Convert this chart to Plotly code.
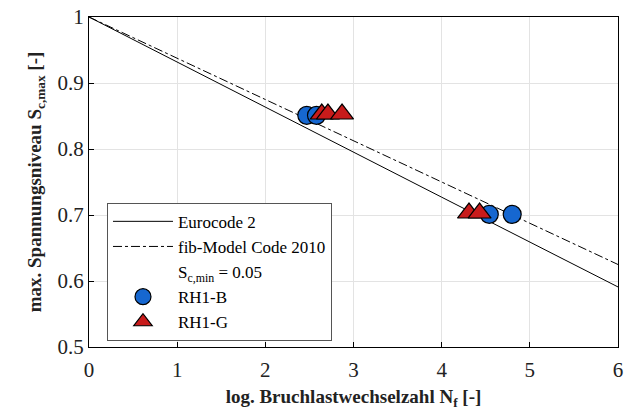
import plotly.graph_objects as go

# Model curves
ec2_x = [0, 2, 4, 6]
ec2_y = [1.0, 0.863, 0.727, 0.591]
fib_x = [0, 2, 4, 6]
fib_y = [1.0, 0.875, 0.75, 0.625]

# Test data
rh1b_x = [2.47, 2.58, 4.54, 4.80]
rh1b_y = [0.851, 0.851, 0.701, 0.701]
rh1g_x = [2.64, 2.71, 2.87, 4.31, 4.43]
rh1g_y = [0.853, 0.853, 0.853, 0.703, 0.703]

# Tick labels
x_ticks = [0, 1, 2, 3, 4, 5, 6]
x_ticktext = ["0", "1", "2", "3", "4", "5", "6"]
y_ticks = [0.5, 0.6, 0.7, 0.8, 0.9, 1.0]
y_ticktext = ["0.5", "0.6", "0.7", "0.8", "0.9", "1"]

font_family = "Liberation Serif"

fig = go.Figure()
fig.add_trace(go.Scatter(x=ec2_x, y=ec2_y, mode="lines", name="Eurocode 2",
                         line=dict(color="black", width=1)))
fig.add_trace(go.Scatter(x=fib_x, y=fib_y, mode="lines", name="fib-Model Code 2010",
                         line=dict(color="black", width=1, dash="dashdot")))
fig.add_trace(go.Scatter(x=[None], y=[None], mode="lines", name="S<sub>c,min</sub> = 0.05",
                         line=dict(color="rgba(0,0,0,0)", width=1)))
fig.add_trace(go.Scatter(x=rh1b_x, y=rh1b_y, mode="markers", name="RH1-B",
                         marker=dict(symbol="circle", size=18, color="#1667d0",
                                     line=dict(color="black", width=1.2))))
fig.add_trace(go.Scatter(x=rh1g_x, y=rh1g_y, mode="markers", name="RH1-G",
                         marker=dict(symbol="triangle-up", size=20, color="#c81b1b",
                                     line=dict(color="black", width=1.2))))

fig.update_layout(
    width=627, height=416,
    margin=dict(l=89, r=4, t=17, b=69),
    paper_bgcolor="white", plot_bgcolor="white",
    font=dict(family=font_family, size=17, color="#222"),
    legend=dict(x=0.034, y=0.437, xanchor="left", yanchor="top",
                bordercolor="#555", borderwidth=1, bgcolor="white",
                font=dict(family=font_family, size=17, color="black"),
                tracegroupgap=0, itemwidth=60),
    showlegend=True,
)
fig.update_xaxes(range=[0, 6], tickmode="array", tickvals=x_ticks, ticktext=x_ticktext,
                 showgrid=True, gridcolor="#e3e3e3",
                 showline=True, linecolor="black", linewidth=1, mirror=True,
                 ticks="inside", ticklen=5, tickcolor="black", zeroline=False,
                 tickfont=dict(size=21, color="#222"), ticklabeloverflow="allow",
                 ticklabelstandoff=4,
                 title=dict(text="<b>log. Bruchlastwechselzahl N<sub>f</sub> [-]</b>",
                            font=dict(size=19, color="#222"), standoff=8))
fig.update_yaxes(range=[0.5, 1.0], tickmode="array", tickvals=y_ticks, ticktext=y_ticktext,
                 showgrid=True, gridcolor="#e3e3e3",
                 showline=True, linecolor="black", linewidth=1, mirror=True,
                 ticks="inside", ticklen=5, tickcolor="black", zeroline=False,
                 tickfont=dict(size=21, color="#222"), ticklabeloverflow="allow",
                 title=dict(text="<b>max. Spannungsniveau S<sub>c,max</sub> [-]</b>",
                            font=dict(size=19, color="#222"), standoff=10))

fig.write_html("out.html")
